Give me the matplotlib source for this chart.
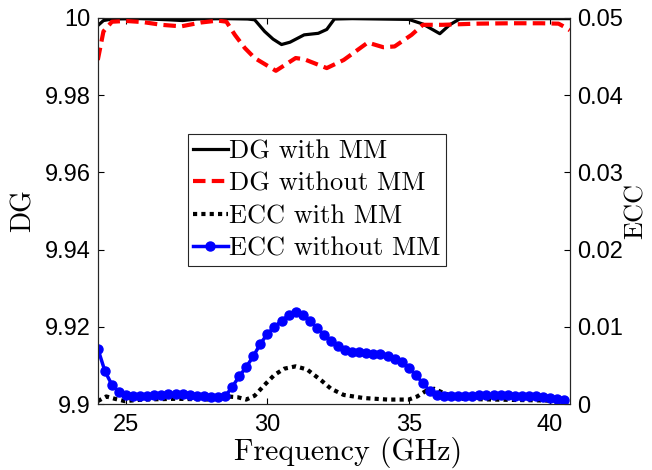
import matplotlib
matplotlib.use('Agg')
import matplotlib.pyplot as plt
import numpy as np

# DG with MM (black solid)
f_dg_mm = [24.0, 24.2, 24.5, 25.5, 26.5, 27.0, 27.5, 28.5, 29.3, 29.55, 29.9, 30.2, 30.5,
           30.8, 31.3, 31.8, 32.1, 32.37, 33.0, 34.0, 35.0, 35.5, 36.1, 36.45, 36.8, 37.5,
           38.5, 39.5, 40.7]
dg_mm = [9.9980, 9.9993, 9.9997, 9.9998, 9.9995, 9.9993, 9.9997, 9.9998, 9.9997, 9.9995,
         9.9965, 9.9945, 9.9931, 9.9937, 9.9956, 9.9960, 9.9970, 9.9997, 9.9998, 9.9997,
         9.9996, 9.9984, 9.9959, 9.9982, 9.9997, 9.9998, 9.9998, 9.9998, 9.9998]

# DG without MM (red dashed)
f_dg_nomm = [24.0, 24.2, 24.5, 25.0, 25.6, 26.25, 26.95, 27.65, 28.25, 28.55, 28.85, 29.2,
             29.55, 30.3, 31.0, 31.3, 32.1, 32.7, 33.55, 34.1, 34.5, 35.1, 35.5, 36.2,
             37.4, 38.6, 39.7, 40.3, 40.55, 40.7]
dg_nomm = [9.9891, 9.9965, 9.9990, 9.9992, 9.9989, 9.9982, 9.9978, 9.9988, 9.9993, 9.9990,
           9.9956, 9.9922, 9.9896, 9.9863, 9.9896, 9.9893, 9.9870, 9.9891, 9.9936, 9.9924,
           9.9926, 9.9956, 9.9982, 9.9982, 9.9985, 9.9986, 9.9986, 9.9985, 9.9975, 9.9968]

# ECC with MM (black dotted)
f_ecc_mm = [24.0, 24.3, 24.6, 24.95, 25.6, 26.8, 28.0, 28.6, 28.95, 29.25, 29.55, 29.9,
            30.25, 30.6, 31.0, 31.4, 31.9, 32.25, 32.7, 33.4, 34.25, 35.0, 35.3, 35.6,
            35.9, 36.2, 36.8, 38.0, 39.5, 40.7]
ecc_mm = [0.0004, 0.0010, 0.0007, 0.0004, 0.0006, 0.0007, 0.0006, 0.0010, 0.0009, 0.0006,
          0.0011, 0.0025, 0.0038, 0.0046, 0.0049, 0.0045, 0.0031, 0.0020, 0.0012, 0.0008,
          0.0006, 0.0006, 0.0010, 0.0017, 0.0020, 0.0015, 0.0007, 0.0006, 0.0005, 0.0004]

# ECC without MM (blue, markers), 0.25 GHz steps from 24 GHz
f_ecc_nomm = np.arange(24.0, 40.51, 0.25)
ecc_nomm = [0.0072, 0.0043, 0.0025, 0.0016, 0.0012, 0.0011, 0.0011, 0.0011, 0.0012, 0.0012,
            0.0013, 0.0013, 0.0013, 0.0012, 0.0011, 0.0010, 0.0009, 0.0009, 0.0010, 0.0022,
            0.0036, 0.0048, 0.0062, 0.0078, 0.0091, 0.0100, 0.0108, 0.0115, 0.0119, 0.0116,
            0.0108, 0.0099, 0.0090, 0.0082, 0.0075, 0.0070, 0.0068, 0.0067, 0.0066, 0.0065,
            0.0065, 0.0063, 0.0059, 0.0054, 0.0047, 0.0038, 0.0027, 0.0017, 0.0012, 0.0011,
            0.0011, 0.0011, 0.0011, 0.0011, 0.0012, 0.0012, 0.0012, 0.0012, 0.0012, 0.0011,
            0.0011, 0.0011, 0.0010, 0.0009, 0.0008, 0.0007, 0.0006]

serif = 'cmr10'
plt.rcParams['font.family'] = ['Liberation Sans', 'DejaVu Sans']

fig = plt.figure(figsize=(6.52, 4.70), dpi=100)
ax = fig.add_axes([0.150, 0.140, 0.724, 0.822])
ax2 = ax.twinx()

l1, = ax.plot(f_dg_mm, dg_mm, color='black', lw=2.3, label='DG with MM')
l2, = ax.plot(f_dg_nomm, dg_nomm, color='red', lw=3, ls=(0, (3, 1.5)), label='DG without MM')
l3, = ax2.plot(f_ecc_mm, ecc_mm, color='black', lw=3, ls=(0, (1, 1)), label='ECC with MM')
l4, = ax2.plot(f_ecc_nomm, ecc_nomm, color='blue', lw=2.5, marker='o', ms=6.5,
               label='ECC without MM')

ax.set_xlim(24, 40.7)
ax.set_ylim(9.9, 10.0)
ax2.set_ylim(0, 0.05)
ax.set_xticks([25, 30, 35, 40])
ax.set_yticks([9.9, 9.92, 9.94, 9.96, 9.98, 10.0])
ax.set_yticklabels(['9.9', '9.92', '9.94', '9.96', '9.98', '10'])
ax2.set_yticks([0, 0.01, 0.02, 0.03, 0.04, 0.05])
ax2.set_yticklabels(['0', '0.01', '0.02', '0.03', '0.04', '0.05'])

ax.tick_params(axis='x', direction='in', length=4, labelsize=17, top=True, pad=7)
ax.tick_params(axis='y', direction='in', length=4, labelsize=17, right=False, pad=5)
ax2.tick_params(axis='y', direction='in', length=4, labelsize=17, pad=5)
for a in (ax, ax2):
    for s in a.spines.values():
        s.set_linewidth(0.8)
        s.set_color('#262626')

ax.set_xlabel('Frequency (GHz)', fontfamily=serif, fontsize=21.5, labelpad=0)
ax.xaxis.set_label_coords(0.53, -0.085)
ax.set_ylabel('DG', fontfamily=serif, fontsize=20, labelpad=6)
ax2.set_ylabel('ECC', fontfamily=serif, fontsize=19, labelpad=1)

leg = ax2.legend(handles=[l1, l2, l3, l4], loc='upper left', bbox_to_anchor=(0.191, 0.699),
                 borderaxespad=0, fancybox=False, framealpha=1, edgecolor='#262626',
                 prop={'family': serif, 'size': 19}, handlelength=1.3, handletextpad=0.05,
                 labelspacing=0.33, borderpad=0.2)
leg.get_frame().set_linewidth(0.8)

fig.savefig('out.png', dpi=100)
